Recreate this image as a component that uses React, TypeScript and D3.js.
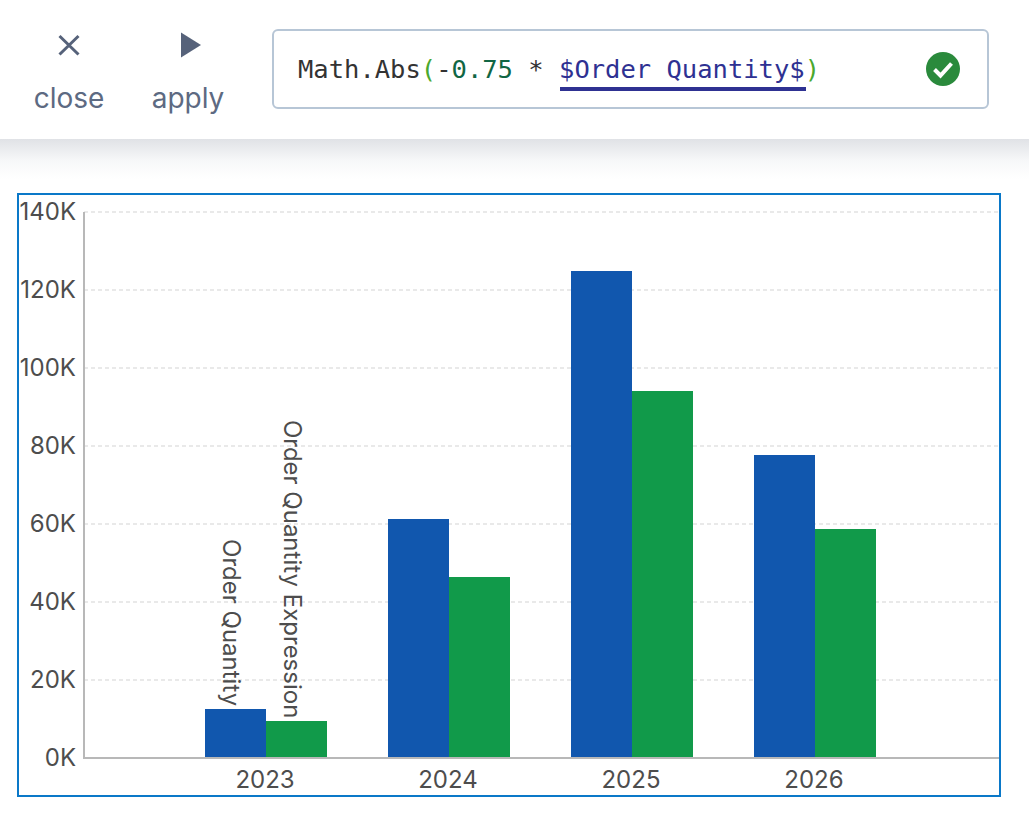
import React, { useEffect, useRef } from 'react'
import * as d3 from 'd3'

const years = ['2023', '2024', '2025', '2026']
const seriesNames = ['Order Quantity', 'Order Quantity Expression']
const orderQuantity = [12500, 61300, 124900, 77700]
const orderQuantityExpression = [9400, 46400, 94100, 58700]
const yTicks = [0, 20000, 40000, 60000, 80000, 100000, 120000, 140000]
const seriesColors = ['#1157ae', '#119a4a']

const uiFont = 'Inter, "Noto Sans", sans-serif'
const mono = '"DejaVu Sans Mono", monospace'

const codeParts = [
  { text: 'Math.Abs', fill: '#333333' },
  { text: '(', fill: '#4aa82e' },
  { text: '-', fill: '#333333' },
  { text: '0.75', fill: '#116644' },
  { text: ' * ', fill: '#333333' },
  { text: '$Order Quantity$', fill: '#2e3192' },
  { text: ')', fill: '#4aa82e' },
]

export default function App() {
  const svgRef = useRef<SVGSVGElement>(null)

  useEffect(() => {
    if (!svgRef.current) return
    const svg = d3.select(svgRef.current)
    svg.selectAll('*').remove()

    const width = 1029
    const height = 825

    const defs = svg.append('defs')
    const shadow = defs
      .append('linearGradient')
      .attr('id', 'toolbarShadow')
      .attr('x1', 0)
      .attr('y1', 0)
      .attr('x2', 0)
      .attr('y2', 1)
    shadow.append('stop').attr('offset', 0).attr('stop-color', '#e0e2e6')
    shadow.append('stop').attr('offset', 0.55).attr('stop-color', '#f7f8f9')
    shadow.append('stop').attr('offset', 1).attr('stop-color', '#ffffff')

    svg.append('rect').attr('width', width).attr('height', height).attr('fill', '#ffffff')
    svg.append('rect').attr('y', 139).attr('width', width).attr('height', 40).attr('fill', 'url(#toolbarShadow)')

    // toolbar buttons
    svg
      .append('path')
      .attr('d', 'M59.5 36 L78.5 54.5 M78.5 36 L59.5 54.5')
      .attr('stroke', '#56627a')
      .attr('stroke-width', 3)
      .attr('fill', 'none')
    svg.append('path').attr('d', 'M181 32.5 L201 45 L181 57.5 Z').attr('fill', '#56627a')

    svg
      .selectAll('text.btn')
      .data([
        { label: 'close', x: 69 },
        { label: 'apply', x: 188 },
      ])
      .join('text')
      .attr('class', 'btn')
      .attr('x', (d) => d.x)
      .attr('y', 108)
      .attr('text-anchor', 'middle')
      .style('font-family', uiFont)
      .style('font-size', '28px')
      .style('fill', '#5d6a82')
      .text((d) => d.label)

    // expression box
    svg
      .append('rect')
      .attr('x', 273)
      .attr('y', 30)
      .attr('width', 715)
      .attr('height', 78)
      .attr('rx', 5)
      .attr('fill', '#ffffff')
      .attr('stroke', '#b7c6d6')
      .attr('stroke-width', 2)

    const code = svg
      .append('text')
      .attr('x', 298)
      .attr('y', 78)
      .attr('xml:space', 'preserve')
      .style('white-space', 'pre')
      .style('font-family', mono)
      .style('font-size', '25.5px')
    code
      .selectAll('tspan')
      .data(codeParts)
      .join('tspan')
      .attr('fill', (d) => d.fill)
      .text((d) => d.text)

    svg.append('rect').attr('x', 560).attr('y', 87).attr('width', 246).attr('height', 4).attr('fill', '#2e3192')

    svg.append('circle').attr('cx', 943).attr('cy', 69).attr('r', 17).attr('fill', '#2a8a3c')
    svg
      .append('path')
      .attr('d', 'M934.5 69.5 L940.5 75.5 L951.5 63.5')
      .attr('stroke', '#ffffff')
      .attr('stroke-width', 4)
      .attr('fill', 'none')

    // chart frame
    svg
      .append('rect')
      .attr('x', 18)
      .attr('y', 194)
      .attr('width', 982)
      .attr('height', 602)
      .attr('fill', '#ffffff')
      .attr('stroke', '#0a78c8')
      .attr('stroke-width', 2)

    const x0 = d3
      .scaleBand<string>()
      .domain(years)
      .range([174, 906])
      .paddingInner(1 / 3)
      .paddingOuter(1 / 6)
    const x1 = d3.scaleBand<string>().domain(seriesNames).range([0, x0.bandwidth()])
    const y = d3.scaleLinear().domain([0, 140000]).range([758, 212])

    // grid
    svg
      .append('g')
      .selectAll('line')
      .data(yTicks.slice(1))
      .join('line')
      .attr('x1', 84)
      .attr('x2', 999)
      .attr('y1', (d) => y(d))
      .attr('y2', (d) => y(d))
      .attr('stroke', '#e2e2e2')
      .attr('stroke-width', 1.5)
      .attr('stroke-dasharray', '4 3')

    // bars
    const series = [orderQuantity, orderQuantityExpression]
    series.forEach((values, i) => {
      svg
        .append('g')
        .selectAll('rect')
        .data(values)
        .join('rect')
        .attr('x', (_, j) => Math.round((x0(years[j]) as number) + (x1(seriesNames[i]) as number)))
        .attr('y', (d) => y(d))
        .attr('width', Math.round(x1.bandwidth()))
        .attr('height', (d) => y(0) - y(d))
        .attr('fill', seriesColors[i])
        .attr('shape-rendering', 'crispEdges')
    })

    // axes
    svg.append('line').attr('x1', 84).attr('x2', 84).attr('y1', 212).attr('y2', 759).attr('stroke', '#b8b8b8').attr('stroke-width', 2)
    svg.append('line').attr('x1', 83).attr('x2', 999).attr('y1', 758).attr('y2', 758).attr('stroke', '#b8b8b8').attr('stroke-width', 2)

    svg
      .append('g')
      .selectAll('text')
      .data(yTicks)
      .join('text')
      .attr('x', 76)
      .attr('y', (d) => y(d) + 8)
      .attr('text-anchor', 'end')
      .style('font-family', uiFont)
      .style('font-size', '24px')
      .style('fill', '#4d4d4d')
      .text((d) => `${d / 1000}K`)

    svg
      .append('g')
      .selectAll('text')
      .data(years)
      .join('text')
      .attr('x', (d) => (x0(d) as number) + x0.bandwidth() / 2 - 0.5)
      .attr('y', 788)
      .attr('text-anchor', 'middle')
      .style('font-family', uiFont)
      .style('font-size', '24px')
      .style('fill', '#4d4d4d')
      .text((d) => d)

    // rotated series labels over the first group
    seriesNames.forEach((name, i) => {
      const cx = (x0(years[0]) as number) + (x1(name) as number) + x1.bandwidth() / 2
      svg
        .append('text')
        .attr('transform', `translate(${cx - 12.5},${y(series[i][0]) - 3}) rotate(90)`)
        .attr('text-anchor', 'end')
        .style('font-family', uiFont)
        .style('font-size', '24px')
        .style('fill', '#4d4d4d')
        .text(name)
    })
  }, [])

  return (
    <svg
      ref={svgRef}
      width="1029"
      height="825"
      style={{ position: 'absolute', left: 0, top: 0, display: 'block' }}
    />
  )
}
